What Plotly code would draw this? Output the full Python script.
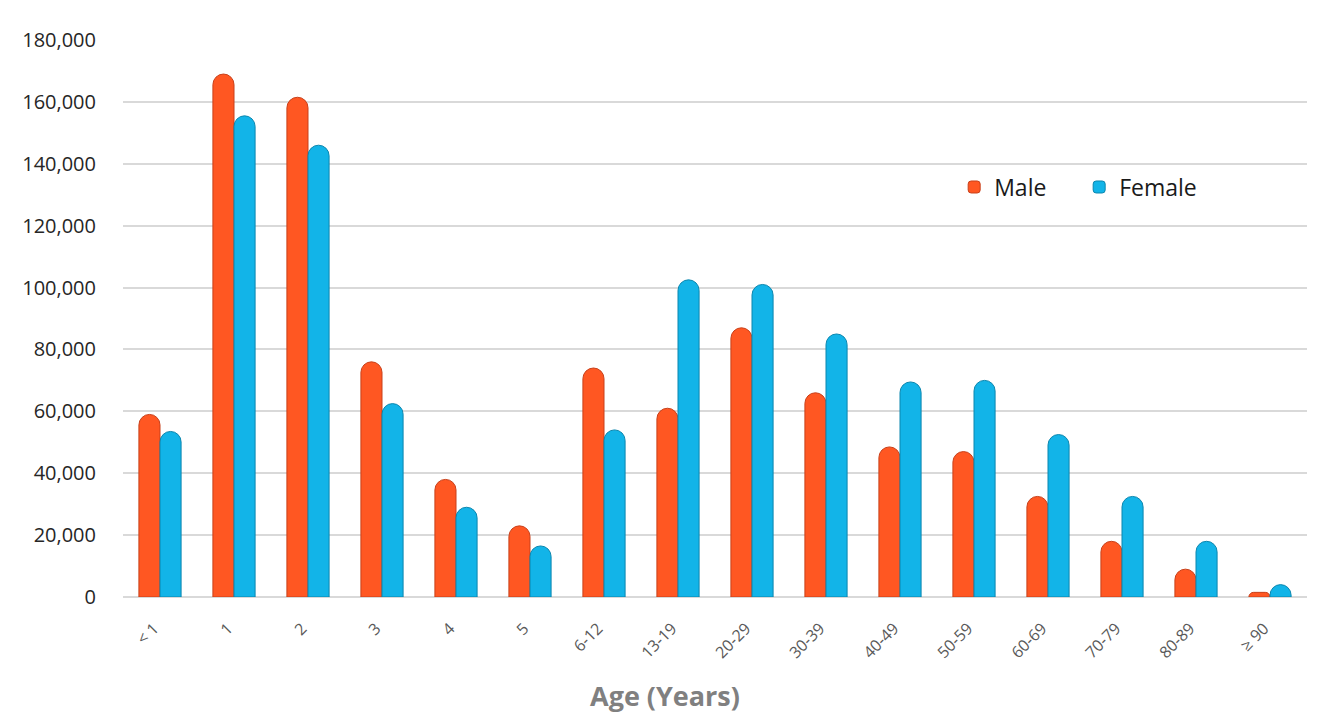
import plotly.graph_objects as go

categories = ["< 1", "1", "2", "3", "4", "5", "6-12", "13-19", "20-29", "30-39",
              "40-49", "50-59", "60-69", "70-79", "80-89", "≥ 90"]
male = [59000, 169000, 161500, 76000, 38000, 23000, 74000, 61000, 87000, 66000,
        48500, 47000, 32500, 18000, 9000, 1500]
female = [53500, 155500, 146000, 62500, 29000, 16500, 54000, 102500, 101000, 85000,
          69500, 70000, 52500, 32500, 18000, 4000]
y_ticks = [0, 20000, 40000, 60000, 80000, 100000, 120000, 140000, 160000, 180000]

fig = go.Figure()
fig.add_trace(go.Bar(name="Male", x=categories, y=male,
                     marker=dict(color="#FF5722", line=dict(color="#C8401A", width=1))))
fig.add_trace(go.Bar(name="Female", x=categories, y=female,
                     marker=dict(color="#12B4E8", line=dict(color="#0B86AE", width=1))))

fig.update_layout(
    width=1332, height=721,
    margin=dict(l=115, r=33, t=32, b=132),
    plot_bgcolor="white", paper_bgcolor="white",
    barmode="group", bargap=0.43, bargroupgap=0,
    barcornerradius=11,
    font=dict(family="Open Sans", color="#333333"),
    legend=dict(orientation="h", x=0.702, y=0.736, xanchor="left", yanchor="middle",
                font=dict(size=23, color="#1a1a1a"), itemwidth=30,
                entrywidth=80, entrywidthmode="pixels",
                bgcolor="rgba(0,0,0,0)", traceorder="normal"),
    showlegend=True,
)
fig.update_yaxes(range=[0, 180000], tickvals=y_ticks, tickformat=",d",
                 showgrid=True, gridcolor="#D9D9D9", gridwidth=1.5,
                 zeroline=True, zerolinecolor="#D9D9D9", zerolinewidth=1.5,
                 showline=False, ticks="", ticklabelstandoff=26,
                 tickfont=dict(size=20, color="#262626"))
fig.update_xaxes(showline=False, ticks="", tickangle=-45,
                 tickfont=dict(size=16, color="#595959"),
                 ticklabelstandoff=18, ticklabelshift=-6)
fig.add_annotation(text="<b>Age (Years)</b>", xref="paper", yref="paper",
                   x=0.458, y=-0.176, xanchor="center", yanchor="middle",
                   showarrow=False, font=dict(size=27, color="#808080", family="Open Sans"))

fig.write_html("out.html")
